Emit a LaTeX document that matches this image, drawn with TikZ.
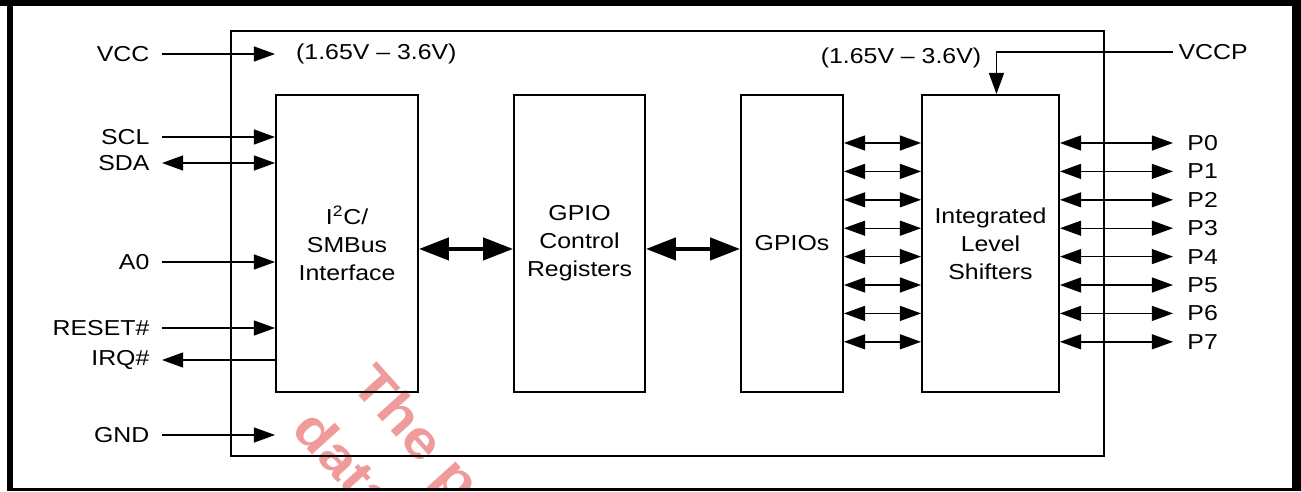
\documentclass[tikz,border=0pt]{standalone}
\usepackage{fontspec}
\setmainfont{Liberation Sans}[FakeStretch=1.15]
\usetikzlibrary{arrows.meta, positioning}
\definecolor{markred}{RGB}{240,155,155}

\tikzset{
  blk/.style={draw, line width=1.1pt, align=center, minimum height=5.94cm, inner sep=0pt},
  sig/.style={line width=0.8pt, -{Triangle[length=12pt,width=8.5pt]}},
  sigb/.style={line width=0.8pt, {Triangle[length=12pt,width=8.5pt]}-{Triangle[length=12pt,width=8.5pt]}},
  bus/.style={line width=2.4pt, {Triangle[length=17pt,width=12.5pt]}-{Triangle[length=17pt,width=12.5pt]}},
  lbl/.style={anchor=east, inner xsep=7pt},
  plbl/.style={anchor=west, inner xsep=8pt},
  wmark/.style={markred, font=\bfseries\fontsize{30}{36}\selectfont, rotate=-48, anchor=base west, inner sep=0pt}
}

\begin{document}
\begin{tikzpicture}[x=0.02cm, y=-0.02cm, font=\fontsize{12.3}{15.9}\selectfont]
  \useasboundingbox (0,0) rectangle (1301,491);
  % Watermark
  \begin{scope}
    \clip (13,6) rectangle (1292,488);
    \node[wmark] (wm1) at (349,385) {The pro};
    \node[wmark] (wm2) at (290,430) {data};
  \end{scope}
  % Chip outline
  \draw[line width=0.9pt] (231,31) rectangle (1104,456);
  % Blocks
  \node[blk, minimum width=2.84cm] (i2c) at (347,243.5) {I\textsuperscript{2}C/\\SMBus\\Interface};
  \node[blk, minimum width=2.62cm] (ctrl) at (579.5,243.5) {GPIO\\Control\\Registers};
  \node[blk, minimum width=2.04cm] (gpio) at (792,243.5) {GPIOs};
  \node[blk, minimum width=2.74cm] (ls) at (990.5,243.5) {Integrated\\Level\\Shifters};
  % Supply pins
  \node[lbl] (vcc) at (162,54) {VCC};
  \node[anchor=west] (vrange) at (290,54) {(1.65V -- 3.6V)};
  \draw[sig] (vcc) -- (vcc -| i2c.west);
  \node[plbl, inner xsep=3pt] (vccp) at (1173,52) {VCCP};
  \node (lsrange) at (901,58) {(1.65V -- 3.6V)};
  \draw[sig] (vccp) -| ([xshift=3.4pt]ls.north);
  \node[lbl] (gnd) at (162,435) {GND};
  \draw[sig] (gnd) -- (gnd -| i2c.west);
  % Bus pins
  \node[lbl] (scl) at (162,137) {SCL};
  \draw[sig] (scl) -- (scl -| i2c.west);
  \node[lbl] (sda) at (162,163) {SDA};
  \draw[sigb] (sda) -- (sda -| i2c.west);
  \node[lbl] (a0) at (162,262) {A0};
  \draw[sig] (a0) -- (a0 -| i2c.west);
  \node[lbl] (reset) at (162,328) {RESET\#};
  \draw[sig] (reset) -- (reset -| i2c.west);
  \node[lbl] (irq) at (162,360) {IRQ\#};
  \draw[sig] (irq -| i2c.west) -- (irq);
  % Internal buses
  \draw[bus] ([yshift=-3.1pt]i2c.east) -- ([yshift=-3.1pt]ctrl.west);
  \draw[bus] ([yshift=-3.1pt]ctrl.east) -- ([yshift=-3.1pt]gpio.west);
  % Ports
  \foreach \i in {0,...,7} {
    \coordinate (row\i) at (0,{143+28.4*\i});
    \draw[sigb] (gpio.east |- row\i) -- (ls.west |- row\i);
    \node[plbl] (p\i) at (1173,{143+28.4*\i}) {P\i};
    \draw[sigb] (ls.east |- p\i) -- (p\i);
  }
  % Frame
  \fill (0,0) rectangle (1301,6);
  \fill (7,0) rectangle (13,491);
  \fill (1292,0) rectangle (1301,491);
  \fill (7,488) rectangle (1301,491);
\end{tikzpicture}
\end{document}
